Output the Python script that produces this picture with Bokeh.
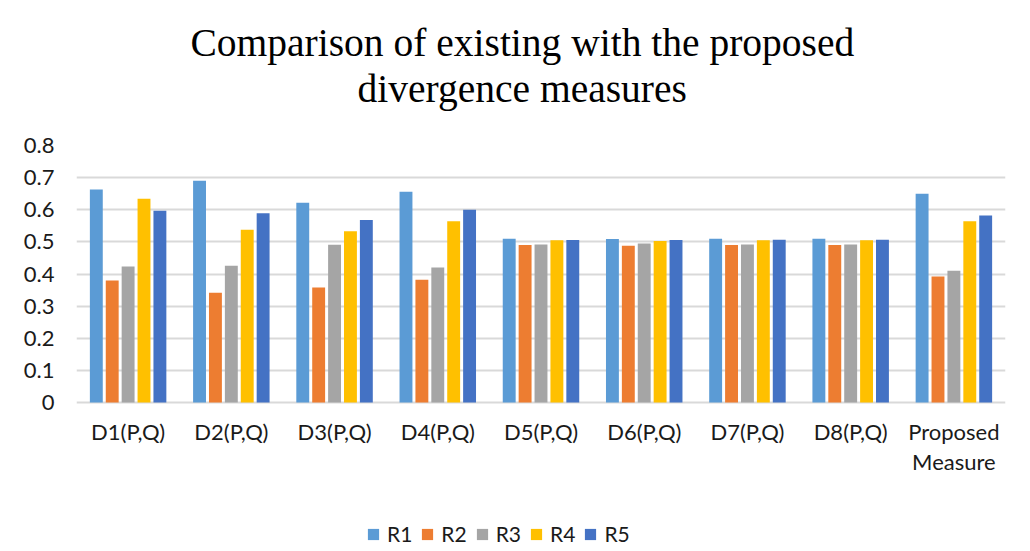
from bokeh.plotting import figure
from bokeh.models import Title, Legend, LegendItem, FixedTicker, ColumnDataSource, Range1d, FactorRange
from bokeh.core.properties import value
from bokeh.transform import dodge
from bokeh.embed import file_html
from bokeh.resources import INLINE

categories = ["D1(P,Q)", "D2(P,Q)", "D3(P,Q)", "D4(P,Q)", "D5(P,Q)",
              "D6(P,Q)", "D7(P,Q)", "D8(P,Q)", "Proposed Measure"]
# axis text, first and second line of each category label
x_label_line1 = ["D1(P,Q)", "D2(P,Q)", "D3(P,Q)", "D4(P,Q)", "D5(P,Q)",
                 "D6(P,Q)", "D7(P,Q)", "D8(P,Q)", "Proposed"]
x_label_line2 = ["", "", "", "", "", "", "", "", "Measure"]
series = ["R1", "R2", "R3", "R4", "R5"]
r1 = [0.663, 0.690, 0.622, 0.656, 0.510, 0.509, 0.510, 0.510, 0.650]
r2 = [0.380, 0.342, 0.358, 0.382, 0.490, 0.488, 0.490, 0.490, 0.392]
r3 = [0.423, 0.426, 0.491, 0.420, 0.492, 0.495, 0.492, 0.492, 0.410]
r4 = [0.634, 0.538, 0.533, 0.564, 0.505, 0.503, 0.505, 0.505, 0.564]
r5 = [0.597, 0.589, 0.568, 0.600, 0.506, 0.506, 0.507, 0.507, 0.582]
colors = ["#5B9BD5", "#ED7D31", "#A5A5A5", "#FFC000", "#4472C4"]
y_ticks = [0, 0.1, 0.2, 0.3, 0.4, 0.5, 0.6, 0.7, 0.8]
y_tick_labels = ["0", "0.1", "0.2", "0.3", "0.4", "0.5", "0.6", "0.7", "0.8"]
title_line1 = "Comparison of existing with the proposed"
title_line2 = "divergence measures"

LABEL_FONT = "Lato"
TITLE_FONT = "Liberation Serif"
TXT = "#1a1a1a"

W, H = 1030, 551
FRAME_LEFT, FRAME_RIGHT, FRAME_TOP = 76, 1005, 145
ZERO_Y = 402            # pixel row of the value 0
Y_MAX = y_ticks[-1]
# the frame runs down to the page bottom so that the category texts and the
# legend below the value axis are drawn inside it
y_start = -Y_MAX * (H - ZERO_Y) / (ZERO_Y - FRAME_TOP)

source = ColumnDataSource(dict(cat=categories, R1=r1, R2=r2, R3=r3, R4=r4, R5=r5,
                               line1=x_label_line1, line2=x_label_line2))

p = figure(width=W, height=H, x_range=FactorRange(*categories), y_range=Range1d(y_start, Y_MAX),
           output_backend="svg", toolbar_location=None,
           min_border_left=FRAME_LEFT, min_border_right=W - FRAME_RIGHT,
           min_border_top=FRAME_TOP, min_border_bottom=0)
p.outline_line_color = None
p.background_fill_color = "white"
p.border_fill_color = "white"

# titles: p.title is the upper line, the added title the lower line
p.title.text = title_line1
p.title.align = "left"
p.title.offset = 114
p.title.text_font = TITLE_FONT
p.title.text_font_size = "39.5px"
p.title.text_font_style = "normal"
p.title.text_color = "black"
near_standoff, far_standoff = 70, -70
try:
    p.title.standoff = far_standoff
except Exception:
    near_standoff, far_standoff = 34, 0
    p.title.standoff = far_standoff
t2 = Title(text=title_line2, align="left", offset=281, text_font=TITLE_FONT,
           text_font_size="39.5px", text_font_style="normal", text_color="black",
           standoff=near_standoff)
p.add_layout(t2, "above")

pitch = 0.154
renderers = []
for i, s in enumerate(series):
    r = p.vbar(x=dodge("cat", (i - 2) * pitch, range=p.x_range), top=s, width=0.125,
               source=source, fill_color=colors[i], line_color=None)
    renderers.append(r)

# category texts under the zero line
p.text(x="cat", y=0, text="line1", source=source, y_offset=15, text_align="center",
       text_baseline="top", text_font=value(LABEL_FONT), text_font_size="22px", text_color=TXT)
p.text(x="cat", y=0, text="line2", source=source, y_offset=45, text_align="center",
       text_baseline="top", text_font=value(LABEL_FONT), text_font_size="22px", text_color=TXT)

# axes
p.xaxis.visible = False
p.yaxis.ticker = FixedTicker(ticks=y_ticks)
p.yaxis.major_label_overrides = {t: l for t, l in zip(y_ticks, y_tick_labels)}
p.yaxis.axis_line_color = None
p.yaxis.major_tick_line_color = None
p.yaxis.minor_tick_line_color = None
p.yaxis.major_label_text_font = LABEL_FONT
p.yaxis.major_label_text_font_size = "22px"
p.yaxis.major_label_text_color = TXT
p.yaxis.major_label_standoff = 16

p.xgrid.grid_line_color = None
p.ygrid.grid_line_color = "#d9d9d9"
p.ygrid.grid_line_width = 2

legend = Legend(items=[LegendItem(label=s, renderers=[r]) for s, r in zip(series, renderers)],
                orientation="horizontal", location=(290, 5),
                glyph_width=14, glyph_height=14, label_standoff=7, spacing=8,
                label_text_font=LABEL_FONT, label_text_font_size="21px",
                label_text_color=TXT, padding=0, margin=0,
                border_line_color=None, background_fill_alpha=0)
p.add_layout(legend, "center")

open("out.html", "w").write(file_html(p, INLINE))
